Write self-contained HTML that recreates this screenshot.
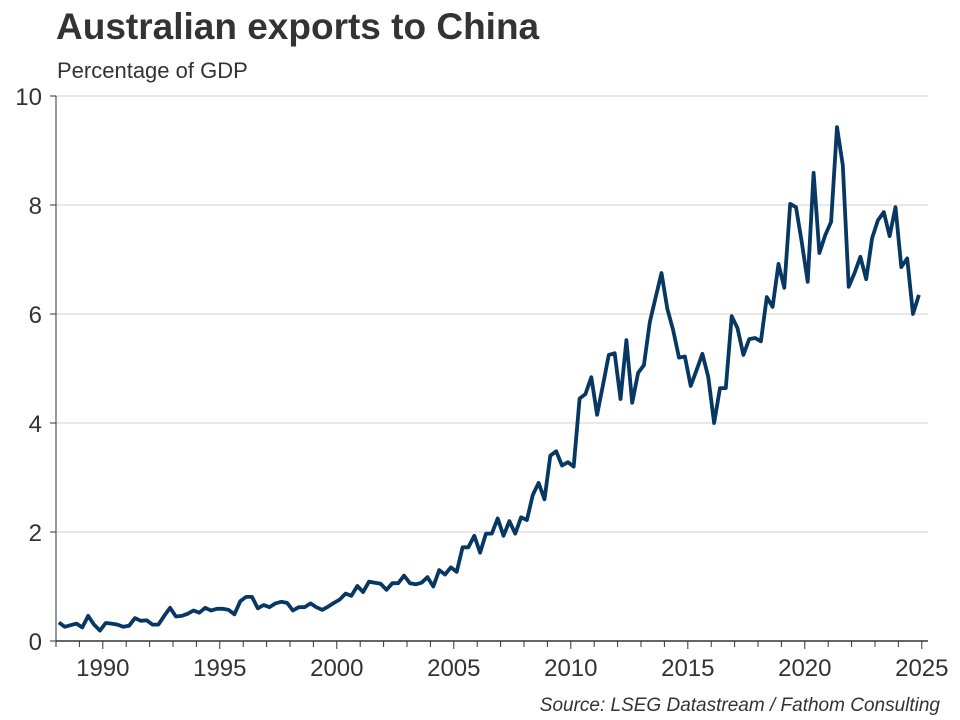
<!DOCTYPE html>
<html><head><meta charset="utf-8"><style>
body{margin:0;background:#fff;}
svg{display:block;font-family:"Liberation Sans",Arial,sans-serif;}
</style></head><body>
<svg id="chart" width="960" height="720" viewBox="0 0 960 720">
<text x="56" y="39" font-size="37" font-weight="bold" fill="#333">Australian exports to China</text>
<text x="57" y="78" font-size="22" fill="#333">Percentage of GDP</text>
<text x="940" y="711" font-size="19" font-style="italic" fill="#333" text-anchor="end">Source: LSEG Datastream / Fathom Consulting</text>
<g id="grid"></g>
<g id="axes"></g>
<g id="series"></g>
</svg>
<script>
const startYear = 1988;
const yTicks = [0, 2, 4, 6, 8, 10];
const xTickLabels = [1990, 1995, 2000, 2005, 2010, 2015, 2020, 2025];
const exportsPctGdp = [
.34,.26,.29,.32, .25,.46,.30,.19, .33,.32,.30,.26, .28,.42,.37,.38,
.30,.30,.46,.61, .45,.46,.50,.56, .52,.61,.56,.59, .59,.57,.49,.73,
.81,.81,.60,.66, .62,.69,.72,.70, .56,.62,.62,.69, .62,.57,.63,.70,
.76,.87,.83,1.01, .90,1.09,1.07,1.05, .94,1.06,1.06,1.20, 1.06,1.04,1.07,1.17,
1.00,1.30,1.22,1.35, 1.27,1.72,1.72,1.93, 1.62,1.97,1.97,2.25, 1.93,2.20,1.97,2.27,
2.22,2.68,2.90,2.60, 3.40,3.48,3.22,3.28, 3.20,4.45,4.53,4.84, 4.15,4.70,5.25,5.28,
4.44,5.52,4.37,4.92, 5.06,5.85,6.30,6.75, 6.10,5.70,5.20,5.22, 4.68,4.97,5.27,4.84,
4.00,4.64,4.64,5.96, 5.74,5.25,5.54,5.56, 5.50,6.31,6.13,6.92, 6.48,8.02,7.96,7.30,
6.59,8.59,7.12,7.45, 7.69,9.43,8.73,6.50, 6.75,7.05,6.64,7.39, 7.72,7.87,7.43,7.96,
6.86,7.02,6.00,6.35
];
const NS = "http://www.w3.org/2000/svg";
const L = 56, R = 928, T = 96, B = 641;
const x = yr => 56 + (yr - 1988) * 23.4;
const y = v => B - v * (B - T) / 10;
function mk(tag, attrs, parent, txt) {
  const e = document.createElementNS(NS, tag);
  for (const k in attrs) e.setAttribute(k, attrs[k]);
  if (txt !== undefined) e.textContent = txt;
  parent.appendChild(e); return e;
}
const grid = document.getElementById('grid');
const axes = document.getElementById('axes');
const series = document.getElementById('series');
yTicks.forEach(t => {
  if (t > 0) {
    const g = mk('line', {x1: L, x2: R, y1: y(t), y2: y(t), stroke: '#d0d0d0', 'stroke-width': 1}, grid);
    
    
  }
  const tk = mk('line', {x1: L - 6, x2: L, y1: y(t), y2: y(t), stroke: '#333', 'stroke-width': 1}, axes);
  
  
  const lb = mk('text', {x: L - 14, y: y(t) + 9, 'font-size': 24, fill: '#333', 'text-anchor': 'end'}, axes, t);
  
  
});
const ya = mk('line', {x1: L, x2: L, y1: T, y2: B, stroke: '#333', 'stroke-width': 1}, axes);


const xa = mk('line', {x1: L, x2: R, y1: B, y2: B, stroke: '#333', 'stroke-width': 1.5}, axes);


for (let yr = 1988; yr <= 2025; yr++) {
  const tk = mk('line', {x1: x(yr), x2: x(yr), y1: B, y2: B + (yr % 5 === 0 ? 8 : 6), stroke: '#333', 'stroke-width': 1}, axes);
  
  
}
xTickLabels.forEach(yr => {
  const lb = mk('text', {x: x(yr), y: 676, 'font-size': 24, fill: '#333', 'text-anchor': 'middle'}, axes, yr);
  
  
});
const pts = exportsPctGdp.map((v, i) => x(startYear + (i + 0.5) / 4).toFixed(1) + ',' + y(v).toFixed(1)).join(' ');
const line = mk('polyline', {points: pts, fill: 'none', stroke: '#073763', 'stroke-width': 3.8, 'stroke-linejoin': 'round'}, series);


</script>
</body></html>
